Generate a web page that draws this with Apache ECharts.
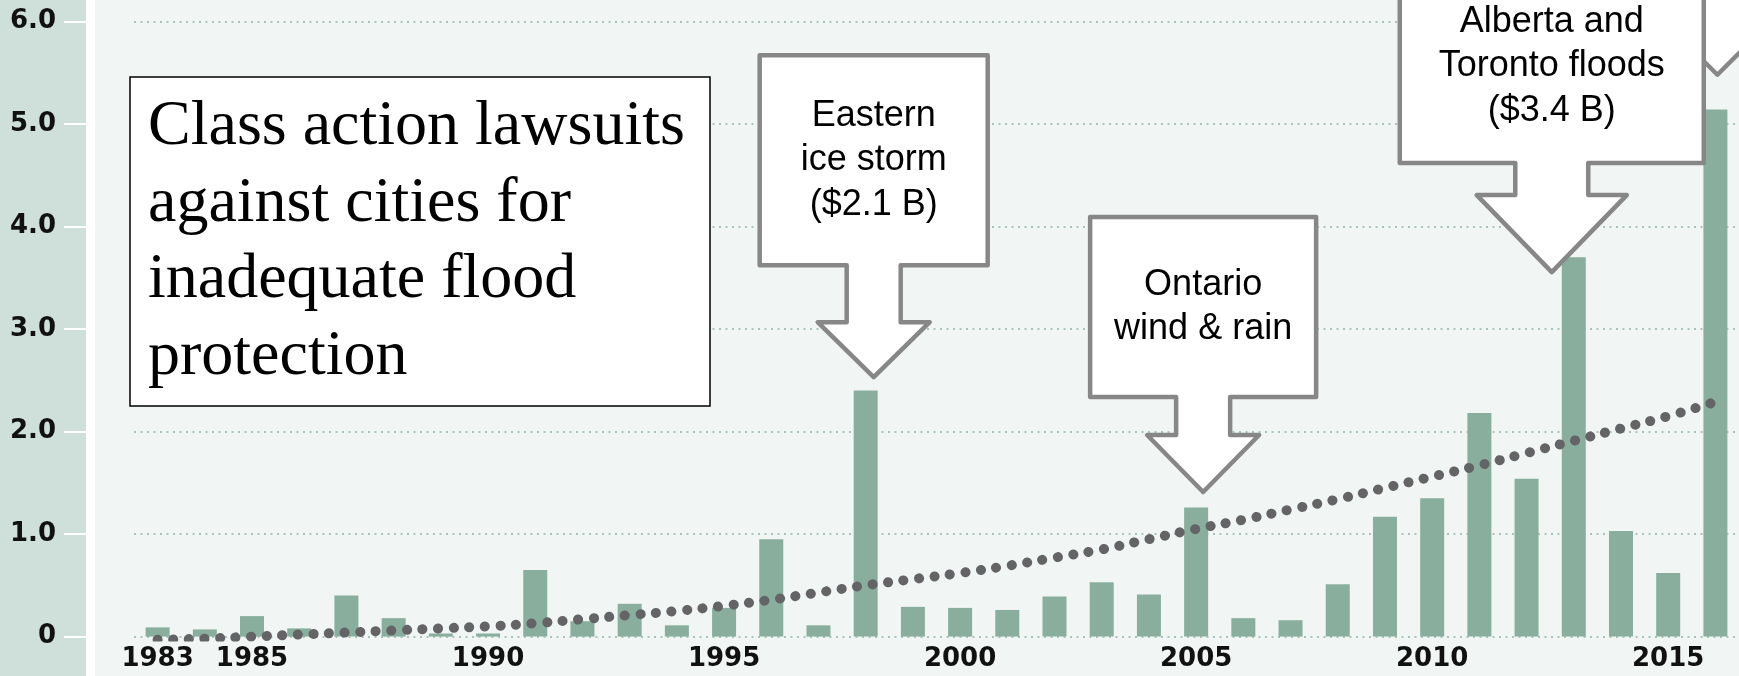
<!DOCTYPE html>
<html>
<head>
<meta charset="utf-8">
<script src="https://cdn.jsdelivr.net/npm/echarts@6/dist/echarts.min.js"></script>
<style>
  html, body { margin: 0; padding: 0; background: #f1f6f4; }
  #chart { width: 1739px; height: 676px; }
</style>
</head>
<body>
<div id="chart"></div>
<script>
// ---- data ----
const years = ['1983','1984','1985','1986','1987','1988','1989','1990','1991','1992',
  '1993','1994','1995','1996','1997','1998','1999','2000','2001','2002',
  '2003','2004','2005','2006','2007','2008','2009','2010','2011','2012',
  '2013','2014','2015','2016'];
const lossValues = [0.09, 0.07, 0.20, 0.08, 0.40, 0.18, 0.03, 0.03, 0.65, 0.15,
  0.32, 0.11, 0.28, 0.95, 0.11, 2.40, 0.29, 0.28, 0.26, 0.39,
  0.53, 0.41, 1.26, 0.18, 0.16, 0.51, 1.17, 1.35, 2.18, 1.54,
  3.70, 1.03, 0.62, 5.14];
const trendValues = [-0.03, -0.02, 0.00, 0.02, 0.04, 0.06, 0.08, 0.10, 0.13, 0.17,
  0.21, 0.25, 0.30, 0.36, 0.43, 0.50, 0.56, 0.62, 0.69, 0.77,
  0.85, 0.95, 1.05, 1.14, 1.24, 1.34, 1.45, 1.56, 1.67, 1.79,
  1.91, 2.03, 2.15, 2.29];
const tickLabels = ['1983','1985','1990','1995','2000','2005','2010','2015'];
const calloutYears = ['1998', '2005', '2016', '2013'];
const calloutTipValues = [2.53, 1.41, 5.48, 3.555];
const calloutTexts = ['Eastern\nice storm\n($2.1 B)', 'Ontario\nwind & rain', '', 'Alberta and\nToronto floods\n($3.4 B)'];
const noteLines = ['Class action lawsuits', 'against cities for', 'inadequate flood', 'protection'];

// ---- callout geometry (pixels, relative to the arrow tip) ----
const calloutShapes = [
  { dx: 8,   headH: 55, headHalf: 56, shaftH: 57, shaftHalf: 27,   boxH: 210, boxHalf: 114 },
  { dx: 7,   headH: 57, headHalf: 56, shaftH: 38, shaftHalf: 27,   boxH: 180, boxHalf: 113 },
  { dx: 2,   headH: 56, headHalf: 56, shaftH: 40, shaftHalf: 27,   boxH: 200, boxHalf: 114 },
  { dx: -22, headH: 77, headHalf: 75, shaftH: 32, shaftHalf: 36.5, boxH: 194, boxHalf: 152 }
];

function renderCallout(params, api) {
  const i = params.dataIndex;
  const s = calloutShapes[i];
  const p = api.coord([api.value(0), api.value(1)]);
  const tx = p[0] + s.dx, ty = p[1];
  const hy = ty - s.headH, sy = hy - s.shaftH, by = sy - s.boxH;
  const pts = [
    [tx - s.boxHalf, by], [tx + s.boxHalf, by], [tx + s.boxHalf, sy],
    [tx + s.shaftHalf, sy], [tx + s.shaftHalf, hy], [tx + s.headHalf, hy],
    [tx, ty],
    [tx - s.headHalf, hy], [tx - s.shaftHalf, hy], [tx - s.shaftHalf, sy],
    [tx - s.boxHalf, sy]
  ];
  return {
    type: 'group',
    children: [
      { type: 'polygon', shape: { points: pts },
        style: { fill: '#ffffff', stroke: '#878787', lineWidth: 4.5, lineJoin: 'round' } },
      { type: 'text',
        style: { text: calloutTexts[i], x: tx, y: (by + sy) / 2, align: 'center', verticalAlign: 'middle',
                 fontFamily: '"Liberation Sans", Arial, sans-serif', fontSize: 36, lineHeight: 44.5, fill: '#000000' } }
    ]
  };
}

const chart = echarts.init(document.getElementById('chart'), null, { renderer: 'canvas' });
const labelFont = { color: '#111111', fontFamily: '"DejaVu Sans", sans-serif', fontWeight: 'bold', fontSize: 26 };

chart.setOption({
  animation: false,
  backgroundColor: '#f1f6f4',
  grid: { left: 134, right: 0, top: 21.4, bottom: 39.4, containLabel: false },
  graphic: [
    { type: 'rect', z: -10, shape: { x: 0, y: 0, width: 86, height: 676 }, style: { fill: '#cfdfd9' } },
    { type: 'rect', z: -10, shape: { x: 86, y: 0, width: 9, height: 676 }, style: { fill: '#ffffff' } },
    { type: 'rect', z: 10, shape: { x: 130, y: 77, width: 580, height: 329 },
      style: { fill: '#ffffff', stroke: '#000000', lineWidth: 1.5 } },
    { type: 'text', z: 11, left: 148, top: 89,
      style: { text: noteLines.join('\n'), fontFamily: '"Liberation Serif", "Times New Roman", serif',
               fontSize: 64, lineHeight: 76.5, fill: '#000000' } }
  ],
  xAxis: {
    type: 'category',
    data: years,
    boundaryGap: true,
    axisLine: { show: false },
    axisTick: { show: false },
    splitLine: { show: false },
    axisLabel: Object.assign({
      interval: (idx, val) => tickLabels.indexOf(val) >= 0,
      margin: 10
    }, labelFont)
  },
  yAxis: {
    type: 'value',
    min: 0, max: 6, interval: 1,
    offset: 48,
    axisLine: { show: false },
    axisTick: { show: true, length: 22, lineStyle: { color: '#ffffff', width: 2 } },
    axisLabel: Object.assign({
      margin: 30,
      formatter: v => (v === 0 ? '0' : v.toFixed(1))
    }, labelFont),
    splitLine: { show: true, lineStyle: { color: '#a9c5ba', width: 2, type: [2, 4.5] } }
  },
  series: [
    {
      name: 'Losses', type: 'bar', data: lossValues, barWidth: 24,
      itemStyle: { color: '#8aae9d' }, z: 2, silent: true
    },
    {
      name: 'Trend', type: 'line', data: trendValues, showSymbol: false, smooth: true,
      lineStyle: { color: '#646467', width: 10, type: [0.1, 15.5], cap: 'round' },
      z: 3, silent: true
    },
    {
      name: 'Callouts', type: 'custom', coordinateSystem: 'cartesian2d',
      data: calloutYears.map((y, i) => [y, calloutTipValues[i]]),
      renderItem: renderCallout, z: 5, silent: true, clip: false
    }
  ]
});
</script>
</body>
</html>
